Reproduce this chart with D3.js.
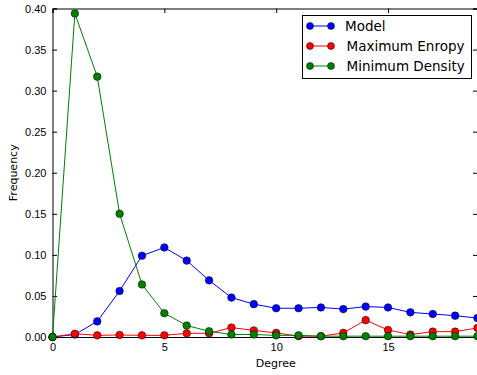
<!DOCTYPE html>
<html>
<head>
<meta charset="utf-8">
<script src="https://cdn.jsdelivr.net/npm/d3@7"></script>
<style>
  body { margin: 0; background: #fff; }
  svg { display: block; font-family: "DejaVu Sans", sans-serif; }
  .axis text { font-size: 11px; fill: #000; }
  .axis path, .axis line { stroke: #000; }
</style>
</head>
<body>
<div id="chart"></div>
<script>
// degrees on the x axis
var degrees = d3.range(0, 20);

// series values
var modelValues = [0.000, 0.003, 0.019, 0.056, 0.099, 0.109, 0.093, 0.069, 0.048, 0.040,
                   0.035, 0.035, 0.036, 0.034, 0.037, 0.036, 0.030, 0.028, 0.026, 0.023];
var maxEntropyValues = [0.000, 0.004, 0.002, 0.0025, 0.002, 0.002, 0.0045, 0.0045, 0.0115, 0.008,
                        0.005, 0.001, 0.001, 0.005, 0.0205, 0.0085, 0.003, 0.0065, 0.0065, 0.011];
var minDensityValues = [0.000, 0.394, 0.317, 0.150, 0.064, 0.029, 0.014, 0.007, 0.003, 0.003,
                        0.002, 0.002, 0.001, 0.001, 0.001, 0.001, 0.001, 0.001, 0.001, 0.001];

var seriesNames = ["Model", "Maximum Enropy", "Minimum Density"];
var seriesColors = ["#0000ff", "#ff0000", "#008000"];

var xTicks = [0, 5, 10, 15];
var yTicks = [0, 0.05, 0.10, 0.15, 0.20, 0.25, 0.30, 0.35, 0.40];

var margin = { top: 8.5, right: 0, bottom: 38, left: 52.5 };
var totalWidth = 477, totalHeight = 375;
var width = 425;
var height = 328.5;

var svg = d3.select("#chart").append("svg")
    .attr("width", totalWidth)
    .attr("height", totalHeight);

var g = svg.append("g")
    .attr("transform", "translate(" + margin.left + "," + margin.top + ")");

var x = d3.scaleLinear().domain([0, 19]).range([0, width]);
var y = d3.scaleLinear().domain([0, 0.40]).range([height, 0]);

var tickLen = 4.5;

// axes with inward ticks on all four sides
var xAxis = d3.axisBottom(x).tickValues(xTicks).tickSize(-tickLen).tickPadding(6).tickFormat(d3.format("d"));
var yAxis = d3.axisLeft(y).tickValues(yTicks).tickSize(-tickLen).tickPadding(6).tickFormat(d3.format(".2f"));

g.append("g")
    .attr("class", "x-axis axis")
    .attr("transform", "translate(0," + height + ")")
    .call(xAxis);

g.append("g")
    .attr("class", "y-axis axis")
    .call(yAxis);

g.append("g")
    .attr("class", "axis")
    .call(d3.axisTop(x).tickValues(xTicks).tickSize(-tickLen).tickFormat(""));

g.append("g")
    .attr("class", "axis")
    .attr("transform", "translate(" + width + ",0)")
    .call(d3.axisRight(y).tickValues(yTicks).tickSize(-tickLen).tickFormat(""));

g.selectAll(".axis .domain").attr("stroke-width", 1);

// axis labels
svg.append("text")
    .attr("x", margin.left + x(10) - 0.5)
    .attr("y", 367)
    .attr("text-anchor", "middle")
    .style("font-size", "11px")
    .text("Degree");

svg.append("text")
    .attr("transform", "translate(17," + (margin.top + height / 2) + ") rotate(-90)")
    .attr("text-anchor", "middle")
    .style("font-size", "11px")
    .text("Frequency");

// series
var series = [modelValues, maxEntropyValues, minDensityValues].map(function(vals, i) {
    return {
        name: seriesNames[i],
        color: seriesColors[i],
        points: degrees.map(function(d, j) { return { x: d, y: vals[j] }; })
    };
});

var line = d3.line()
    .x(function(d) { return x(d.x); })
    .y(function(d) { return y(d.y); });

var plot = g.append("g");

series.forEach(function(s) {
    plot.append("path")
        .datum(s.points)
        .attr("fill", "none")
        .attr("stroke", s.color)
        .attr("stroke-width", 1)
        .attr("d", line);
});

series.forEach(function(s) {
    plot.selectAll(null)
        .data(s.points)
        .enter().append("circle")
        .attr("cx", function(d) { return x(d.x); })
        .attr("cy", function(d) { return y(d.y); })
        .attr("r", 3.8)
        .attr("fill", s.color)
        .attr("stroke", "#000")
        .attr("stroke-width", 0.5);
});

// legend
var legend = svg.append("g");

legend.append("rect")
    .attr("x", 302.5)
    .attr("y", 15.5)
    .attr("width", 169)
    .attr("height", 63)
    .attr("fill", "#fff")
    .attr("stroke", "#000")
    .attr("stroke-width", 1);

series.forEach(function(s, i) {
    var ly = 26 + i * 20;
    legend.append("line")
        .attr("x1", 310).attr("x2", 331)
        .attr("y1", ly).attr("y2", ly)
        .attr("stroke", s.color)
        .attr("stroke-width", 1);
    [310, 331].forEach(function(cx) {
        legend.append("circle")
            .attr("cx", cx).attr("cy", ly)
            .attr("r", 3.5)
            .attr("fill", s.color)
            .attr("stroke", "#000")
            .attr("stroke-width", 0.5);
    });
    legend.append("text")
        .attr("x", i === 0 ? 345 : 346.5)
        .attr("y", ly + 5)
        .style("font-size", "13.5px")
        .text(s.name);
});
</script>
</body>
</html>
